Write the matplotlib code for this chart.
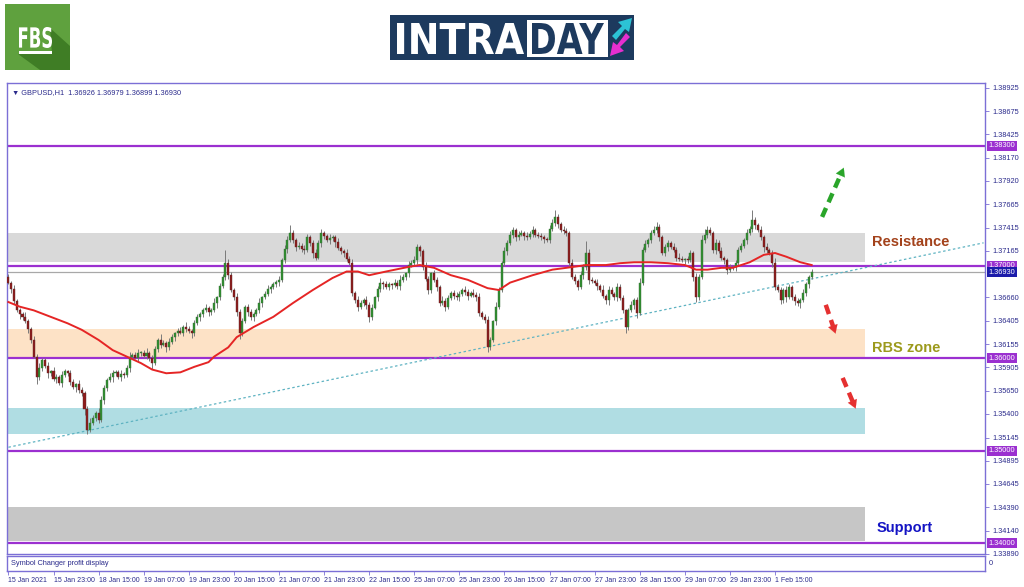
import numpy as np
import matplotlib
matplotlib.use("Agg")
import matplotlib.pyplot as plt
import matplotlib.transforms as mtransforms
from matplotlib.patches import Rectangle, Polygon, PathPatch
from matplotlib.textpath import TextPath
from matplotlib.font_manager import FontProperties

# GBPUSD H1 closes, in pips above 1.3000
closes = [
    682, 675, 662, 652, 648, 645, 640, 632, 620, 602,
    580, 590, 598, 592, 584, 586, 578, 580, 574, 582,
    586, 584, 575, 569, 572, 566, 563, 545, 523, 530,
    536, 541, 533, 555, 568, 577, 580, 584, 585, 580,
    583, 582, 590, 602, 604, 601, 606, 606, 603, 606,
    600, 595, 610, 620, 615, 617, 612, 618, 623, 627,
    630, 628, 634, 632, 630, 627, 638, 645, 648, 652,
    655, 650, 652, 660, 666, 678, 688, 703, 690, 674,
    666, 650, 627, 640, 656, 650, 645, 648, 652, 660,
    666, 670, 675, 677, 680, 683, 685, 706, 718, 728,
    736, 728, 720, 722, 718, 717, 731, 725, 714, 709,
    725, 736, 732, 728, 730, 731, 726, 719, 716, 714,
    708, 703, 671, 663, 656, 660, 663, 658, 645, 655,
    666, 675, 682, 680, 677, 680, 679, 682, 678, 685,
    688, 692, 701, 703, 706, 720, 716, 699, 686, 674,
    692, 685, 677, 660, 662, 656, 665, 671, 668, 666,
    670, 674, 672, 668, 671, 669, 666, 649, 645, 642,
    612, 620, 640, 656, 674, 703, 716, 725, 733, 739,
    731, 734, 736, 732, 731, 735, 739, 734, 732, 731,
    729, 728, 740, 746, 753, 745, 739, 738, 736, 703,
    688, 684, 677, 690, 699, 714, 685, 684, 682, 678,
    674, 668, 663, 674, 670, 666, 677, 665, 652, 634,
    652, 658, 663, 649, 682, 717, 724, 728, 736, 739,
    742, 731, 714, 720, 725, 721, 717, 709, 708, 706,
    707, 706, 714, 688, 666, 688, 728, 734, 739, 736,
    717, 725, 716, 709, 706, 696, 698, 699, 703, 717,
    722, 728, 736, 740, 750, 744, 739, 731, 720, 717,
    714, 703, 677, 674, 663, 674, 666, 677, 666, 662,
    660, 663, 671, 680, 688, 693,
]
first_open = 688

# upper / lower wick lengths in pips
wick_up = [
    3, 2, 4, 2, 3, 2, 5, 3, 2, 4, 3, 5, 2, 3, 4, 2, 5, 3, 2, 4,
    3, 2, 4, 3, 2, 5, 3, 2, 4, 6, 3, 2, 5, 4, 3, 2, 4, 3, 2, 3,
    4, 2, 3, 5, 2, 3, 4, 2, 3, 5, 2, 4, 3, 2, 6, 3, 2, 4, 3, 2,
    3, 4, 2, 5, 3, 2, 4, 3, 2, 3, 4, 2, 3, 5, 2, 4, 3, 14, 4, 3,
    2, 5, 3, 4, 2, 3, 4, 2, 3, 5, 2, 3, 4, 2, 3, 2, 4, 3, 5, 4,
    8, 3, 2, 4, 3, 5, 4, 2, 3, 4, 3, 4, 2, 3, 5, 3, 2, 4, 3, 2,
    4, 3, 5, 2, 4, 3, 2, 5, 3, 4, 2, 3, 5, 2, 4, 3, 2, 4, 3, 5,
    3, 2, 4, 3, 5, 4, 3, 2, 5, 3, 2, 4, 3, 2, 5, 3, 4, 2, 3, 4,
    3, 2, 4, 3, 2, 4, 3, 5, 2, 3, 4, 3, 2, 5, 3, 2, 4, 3, 5, 3,
    2, 4, 3, 2, 5, 3, 4, 2, 3, 4, 3, 2, 4, 5, 7, 3, 2, 4, 3, 2,
    4, 3, 2, 5, 3, 13, 4, 3, 2, 4, 3, 5, 2, 4, 3, 2, 5, 3, 4, 2,
    3, 4, 2, 3, 5, 3, 4, 2, 3, 4, 5, 3, 2, 4, 3, 2, 4, 3, 5, 3,
    2, 4, 3, 2, 4, 3, 5, 6, 4, 3, 2, 4, 3, 5, 2, 3, 4, 2, 3, 4,
    3, 2, 4, 3, 10, 3, 2, 4, 3, 5, 2, 3, 6, 4, 3, 2, 4, 3, 2, 4,
    3, 2, 4, 3, 2, 4,
]
wick_dn = [
    2, 4, 3, 2, 5, 3, 2, 4, 3, 2, 8, 3, 4, 2, 5, 3, 2, 4, 3, 5,
    2, 3, 4, 2, 5, 3, 4, 6, 5, 3, 2, 4, 3, 2, 4, 3, 2, 5, 3, 2,
    4, 3, 2, 5, 3, 2, 4, 3, 2, 4, 3, 6, 2, 3, 4, 2, 5, 3, 2, 4,
    3, 2, 4, 3, 2, 5, 3, 2, 4, 3, 2, 4, 3, 2, 5, 3, 2, 3, 4, 2,
    3, 4, 6, 3, 2, 4, 3, 5, 2, 3, 4, 2, 3, 4, 2, 3, 5, 2, 3, 4,
    2, 3, 4, 2, 3, 4, 2, 3, 5, 3, 2, 4, 3, 2, 4, 3, 5, 2, 3, 4,
    3, 2, 4, 3, 5, 2, 3, 4, 6, 3, 2, 4, 3, 5, 2, 3, 4, 2, 3, 4,
    2, 3, 4, 2, 3, 4, 5, 3, 2, 4, 3, 2, 4, 3, 2, 5, 3, 2, 4, 3,
    4, 2, 3, 5, 2, 3, 4, 3, 2, 4, 5, 3, 2, 4, 3, 2, 3, 4, 2, 3,
    4, 3, 2, 4, 3, 2, 4, 3, 2, 3, 4, 2, 3, 2, 3, 4, 2, 3, 4, 3,
    2, 4, 3, 2, 4, 3, 5, 2, 3, 4, 2, 3, 4, 5, 2, 3, 4, 2, 3, 6,
    3, 2, 4, 5, 2, 3, 2, 4, 3, 2, 3, 4, 2, 3, 4, 3, 2, 4, 3, 2,
    4, 3, 2, 4, 5, 3, 2, 3, 4, 2, 3, 4, 2, 3, 4, 5, 3, 2, 4, 3,
    2, 3, 4, 2, 3, 4, 2, 3, 5, 3, 2, 4, 3, 2, 4, 3, 5, 2, 3, 4,
    3, 5, 2, 3, 4, 2,
]

ma_bars = [0, 4, 9, 15, 21, 26, 32, 37, 42, 47, 51, 56, 61, 66, 71, 73, 78, 81,
           87, 94, 101, 108, 115, 120, 124, 128, 134, 142, 146, 151, 157, 163,
           170, 174, 178, 186, 193, 198, 205, 212, 217, 222, 228, 234, 240, 244,
           248, 253, 257, 263, 268, 272, 276, 281, 285]
ma_vals = [661, 656, 652, 645, 638, 631, 620, 609, 602, 595, 588, 584, 585, 591,
           596, 602, 612, 623, 634, 645, 660, 674, 687, 694, 694, 690, 694, 699,
           701, 698, 690, 685, 676, 674, 682, 690, 696, 698, 701, 701, 703, 704,
           704, 703, 701, 696, 696, 698, 698, 704, 712, 714, 710, 704, 701]

time_labels = ["15 Jan 2021", "15 Jan 23:00", "18 Jan 15:00", "19 Jan 07:00",
               "19 Jan 23:00", "20 Jan 15:00", "21 Jan 07:00", "21 Jan 23:00",
               "22 Jan 15:00", "25 Jan 07:00", "25 Jan 23:00", "26 Jan 15:00",
               "27 Jan 07:00", "27 Jan 23:00", "28 Jan 15:00", "29 Jan 07:00",
               "29 Jan 23:00", "1 Feb 15:00"]
bars_per_label = 16

price_ticks = [1.38925, 1.38675, 1.38425, 1.38170, 1.37920, 1.37665, 1.37415,
               1.37165, 1.36660, 1.36405, 1.36155, 1.35905, 1.35650, 1.35400,
               1.35145, 1.34895, 1.34645, 1.34390, 1.34140, 1.33890]
levels = [1.38300, 1.37000, 1.36000, 1.35000, 1.34000]
bid = 1.36930

zones = [(1.37043, 1.37357, "#d9d9d9"),   # resistance
         (1.36000, 1.36319, "#fde2c6"),   # RBS zone
         (1.35184, 1.35465, "#b0dde3"),
         (1.34027, 1.34395, "#c6c6c6")]   # support
zone_end = 304

trend_x = [0, 346]
trend_y = [1.3504, 1.3725]

frame = "#7b6fd6"
navy = "#2b2b8c"
purple = "#9b30d0"
small = dict(fontsize=5.3, family="Liberation Sans")

c = 1.3 + np.array(closes) / 10000
o = np.r_[1.3 + first_open / 10000, c[:-1]]
hi = np.maximum(o, c) + np.array(wick_up) / 10000
lo = np.minimum(o, c) - np.array(wick_dn) / 10000
idx = np.arange(len(c))
up = c >= o

fig = plt.figure(figsize=(10.24, 5.87), dpi=100)
fig.patch.set_facecolor("white")
W, H = 1024, 587

ax = fig.add_axes([7 / W, (H - 554) / H, 978 / W, 471 / H])
sub = fig.add_axes([7 / W, (H - 571) / H, 978 / W, 15 / H])
ax.set_xlim(-0.5, 346.5)
ax.set_ylim(1.33886, 1.38978)
sub.set_xlim(-0.5, 346.5)
sub.set_ylim(0, 1)

# zones
for z0, z1, col in zones:
    ax.add_patch(Rectangle((-0.5, z0), zone_end + 0.5, z1 - z0, fc=col, ec="none", zorder=0))

# level lines
for lv in levels:
    ax.axhline(lv, color=purple, lw=1.6, zorder=2)
ax.axhline(bid, color="#a8a8a8", lw=0.9, zorder=2)

# trend line
ax.plot(trend_x, trend_y, color="#5fb3c2", lw=0.9, ls=(0, (2, 2)), zorder=3)

# candles
ax.vlines(idx, lo, hi, color="#7a7a7a", lw=0.7, zorder=4)
body = np.maximum(np.abs(c - o), 0.00006)
ax.bar(idx[up], body[up], bottom=np.minimum(o, c)[up], width=0.72,
       color="#2f8f2f", edgecolor="#3c6e3c", lw=0.3, zorder=5)
ax.bar(idx[~up], body[~up], bottom=np.minimum(o, c)[~up], width=0.72,
       color="#8e1b1b", edgecolor="#5e2a2a", lw=0.3, zorder=5)

# moving average
ax.plot(ma_bars, 1.3 + np.array(ma_vals) / 10000, color="#e52525", lw=1.4, zorder=6)

# arrows
def dashed_arrow(x0, y0, x1, y1, col):
    ax.plot([x0, x0 + (x1 - x0) * 0.8], [y0, y0 + (y1 - y0) * 0.8], color=col,
            lw=3.2, ls=(0, (2.2, 1.4)), solid_capstyle="butt", zorder=7)
    ax.annotate("", xy=(x1, y1), xytext=(x0 + (x1 - x0) * 0.72, y0 + (y1 - y0) * 0.72),
                arrowprops=dict(arrowstyle="-|>,head_width=0.35,head_length=0.6",
                                color=col, lw=0.1), zorder=7)

dashed_arrow(288.7, 1.3753, 296.8, 1.3809, "#2aa52a")
dashed_arrow(290.0, 1.3658, 293.8, 1.3624, "#e53030")
dashed_arrow(296.0, 1.3579, 301.0, 1.3543, "#e53030")

# zone names
ax.text(306.5, 1.37255, "Resistance", color="#a3421b", fontsize=10.5, fontweight="bold",
        family="Liberation Sans", va="center", zorder=8)
ax.text(306.5, 1.36115, "RBS zone", color="#9c9a1c", fontsize=10.5, fontweight="bold",
        family="Liberation Sans", va="center", zorder=8)
ax.text(308.0, 1.34170, "Support", color="#1414c4", fontsize=10.5, fontweight="bold",
        family="Liberation Sans", va="center", zorder=8)

ax.text(0.005, 0.988, "\u25bc GBPUSD,H1  1.36926 1.36979 1.36899 1.36930",
        transform=ax.transAxes, color=navy, va="top", ha="left",
        fontsize=5.3, family=["Liberation Sans", "DejaVu Sans"])

# price axis
ax.yaxis.tick_right()
ax.set_yticks(price_ticks)
ax.set_yticklabels([f"{p:.5f}" for p in price_ticks], family="Liberation Sans")
ax.tick_params(axis="y", direction="out", length=3, width=0.6, color=frame,
               labelsize=5.3, labelcolor=navy, pad=2)
ax.set_xticks([])
for lv in levels:
    ax.text(1.0035, lv, f"{lv:.5f}", transform=ax.get_yaxis_transform(), **small,
            color="white", va="center", ha="left",
            bbox=dict(boxstyle="square,pad=0.2", fc=purple, ec="none"))
ax.text(1.0035, bid, f"{bid:.5f}", transform=ax.get_yaxis_transform(), **small,
        color="white", va="center", ha="left",
        bbox=dict(boxstyle="square,pad=0.2", fc="#1c1caa", ec="none"))

for a in (ax, sub):
    for s in a.spines.values():
        s.set_color(frame)
        s.set_linewidth(1.0)

# bottom window with the time axis
sub.set_yticks([])
sub.text(0.004, 0.5, "Symbol Changer profit display", transform=sub.transAxes,
         **small, color=navy, va="center", ha="left")
sub.text(1.004, 0.5, "0", transform=sub.transAxes, **small, color=navy,
         va="center", ha="left")
tick_pos = np.arange(len(time_labels)) * bars_per_label
sub.set_xticks(tick_pos)
sub.set_xticklabels(time_labels, family="Liberation Sans")
sub.tick_params(axis="x", direction="out", length=3, width=0.6, color=frame,
                labelsize=5.0, labelcolor=navy, pad=1)
for lbl in sub.get_xticklabels():
    lbl.set_ha("left")

# logos
la = fig.add_axes([0, 0, 1, 1], zorder=-5)
la.set_xlim(0, W)
la.set_ylim(H, 0)
la.axis("off")

def logo_text(s, x, y, w, h, color):
    tp = TextPath((0, 0), s, size=10, prop=FontProperties(family="DejaVu Sans", weight="bold"))
    bb = tp.get_extents()
    tr = (mtransforms.Affine2D().translate(-bb.x0, -bb.y0)
          .scale(w / bb.width, -h / bb.height).translate(x, y + h))
    la.add_patch(PathPatch(tr.transform_path(tp), fc=color, ec="none"))

la.add_patch(Rectangle((5, 4), 65, 66, fc="#5fa13e", ec="none"))
la.add_patch(Polygon([(50, 28), (70, 46), (70, 70), (40, 70), (18, 54), (52, 54)],
                     fc="#3f7d25", ec="none"))
logo_text("FBS", 19, 27, 33, 21, "white")
la.add_patch(Rectangle((19, 51), 33, 3, fc="white", ec="none"))

la.add_patch(Rectangle((390, 15), 244, 45, fc="#1d3a5e", ec="none"))
logo_text("INTRA", 397, 23, 127, 31, "white")
la.add_patch(Rectangle((527, 20), 81, 37, fc="white", ec="none"))
logo_text("DAY", 532, 23, 72, 31, "#1d3a5e")
la.add_patch(Polygon([(612, 36), (622, 26), (618, 22), (632, 18), (629, 32), (625, 29), (616, 40)],
                     fc="#2cc3d5", ec="none"))
la.add_patch(Polygon([(630, 37), (620, 47), (624, 51), (610, 56), (613, 42), (617, 45), (626, 33)],
                     fc="#e62fcf", ec="none"))

fig.savefig("out.png", dpi=100, facecolor="white")
